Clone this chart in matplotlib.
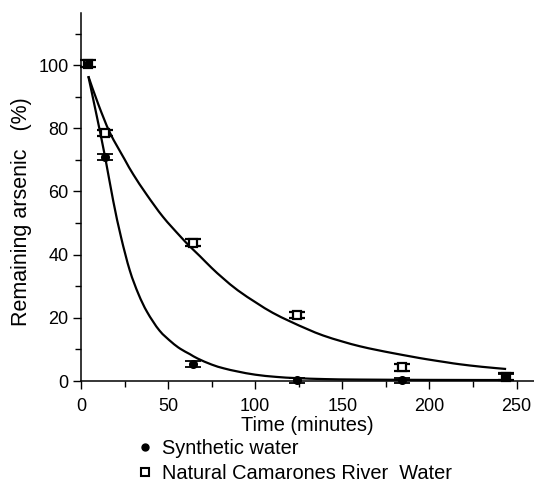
import matplotlib
matplotlib.use("Agg")
import matplotlib.pyplot as plt
from matplotlib.lines import Line2D
from matplotlib.path import Path
from matplotlib.patches import PathPatch
from matplotlib.ticker import FixedLocator

plt.rcParams['font.family'] = ['Liberation Sans', 'DejaVu Sans']

# measured points
time_min = [4, 14, 64, 124, 184, 244]
synthetic = [100.5, 71, 5.4, 0.3, 0.3, 1.2]
synthetic_err = [1.0, 1.0, 1.0, 0.8, 0.8, 1.0]
natural = [100.5, 78.6, 43.8, 21, 4.3, 1.4]
natural_err = [1.0, 1.0, 1.0, 1.0, 1.0, 1.0]

# fitted curves
syn_fit_t = [4.2, 9, 13.8, 18.5, 23, 28, 33, 38, 45, 52, 57, 62.5, 67, 75, 82, 90,
             100, 112, 124, 140, 160, 200, 244]
syn_fit_y = [96.5, 84, 71, 57, 45.5, 35, 27.5, 21.8, 16.0, 12.3, 10.2, 8.5, 7.1, 5.2, 4.0, 3.0,
             2.0, 1.3, 0.9, 0.6, 0.45, 0.35, 0.3]
nat_fit_t = [4.2, 10, 16.6, 25, 30, 37.7, 47, 56.8, 62.5, 68.3, 75, 81.6, 90, 100.8, 110,
             119.9, 130, 139, 150, 160, 170, 179.2, 190, 198.3, 210, 217.4, 230, 244]
nat_fit_y = [96.5, 87.5, 78.6, 70.2, 65.4, 59, 52, 45.9, 42.6, 39.5, 35.8, 32.5, 28.7, 24.7, 21.6,
             18.9, 16.4, 14.4, 12.5, 11.0, 9.8, 8.8, 7.7, 6.9, 5.9, 5.3, 4.5, 3.8]


def smooth_path(ax, xs, ys):
    """Catmull-Rom rendering of the read curve points as cubic Bezier segments
    (drawn in display space so the curvature looks even)."""
    pts = ax.transData.transform(list(zip(xs, ys)))
    verts = [tuple(pts[0])]
    codes = [Path.MOVETO]
    n = len(pts)
    for i in range(n - 1):
        p0 = pts[i - 1] if i > 0 else pts[i]
        p1 = pts[i]
        p2 = pts[i + 1]
        p3 = pts[i + 2] if i + 2 < n else pts[i + 1]
        c1 = p1 + (p2 - p0) / 6.0
        c2 = p2 - (p3 - p1) / 6.0
        verts += [tuple(c1), tuple(c2), tuple(p2)]
        codes += [Path.CURVE4] * 3
    inv = ax.transData.inverted()
    verts = inv.transform(verts)
    return Path(verts, codes)


W, H = 534, 483
fig = plt.figure(figsize=(W / 100, H / 100), dpi=100)
ax = fig.add_axes([81 / W, (H - 381) / H, 453 / W, 368 / H])

ax.set_xlim(0, 260)
ax.set_ylim(0, 116.5)

for xs, ys in [(syn_fit_t, syn_fit_y), (nat_fit_t, nat_fit_y)]:
    ax.add_patch(PathPatch(smooth_path(ax, xs, ys), fc='none', ec='black',
                           lw=1.6, zorder=2, capstyle='butt'))

ax.errorbar(time_min, synthetic, yerr=synthetic_err, fmt='o', color='black',
            ms=5.5, capsize=5.5, capthick=1.3, elinewidth=1.3, zorder=4, clip_on=False)
ax.errorbar(time_min, natural, yerr=natural_err, fmt='s', color='black', mfc='white',
            mec='black', mew=1.6, ms=6, capsize=5.5, capthick=1.3, elinewidth=1.3,
            zorder=3, clip_on=False)

ax.xaxis.set_major_locator(FixedLocator([0, 50, 100, 150, 200, 250]))
ax.xaxis.set_minor_locator(FixedLocator([25, 75, 125, 175, 225]))
ax.yaxis.set_major_locator(FixedLocator([0, 20, 40, 60, 80, 100]))
ax.yaxis.set_minor_locator(FixedLocator([10, 30, 50, 70, 90, 110]))

for s in ['top', 'right']:
    ax.spines[s].set_visible(False)
for s in ['left', 'bottom']:
    ax.spines[s].set_linewidth(1.1)

ax.tick_params(axis='both', which='major', direction='out', length=6, width=1.0,
               labelsize=13, pad=3)
ax.tick_params(axis='x', which='major', pad=6)
ax.tick_params(axis='both', which='minor', direction='out', length=4, width=1.0)

ax.set_xlabel('Time (minutes)', fontsize=14.4)
ax.xaxis.set_label_coords(0.5, -0.095)
ax.set_ylabel('Remaining arsenic   (%)', fontsize=15.5)
ax.yaxis.set_label_coords(-0.108, 0.459)

handles = [
    Line2D([], [], marker='o', color='black', ls='none', ms=5),
    Line2D([], [], marker='s', color='black', mfc='white', mew=1.5, ls='none', ms=5.5),
]
fig.legend(handles, ['Synthetic water', 'Natural Camarones River  Water'],
           loc='upper left', bbox_to_anchor=(138 / W, 1 - 439 / H), frameon=False,
           fontsize=14.4, handlelength=0.7, handletextpad=0.5, labelspacing=0.3,
           borderpad=0, borderaxespad=0)

fig.savefig('out.png', dpi=100)
